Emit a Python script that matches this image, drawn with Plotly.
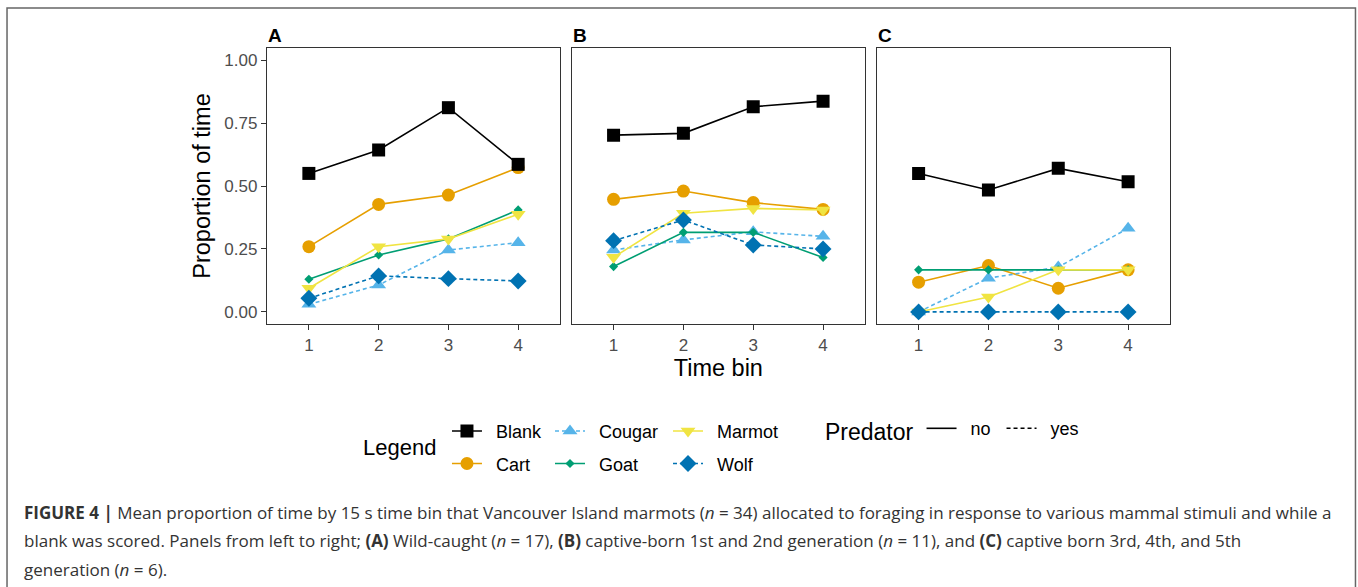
import plotly.graph_objects as go

time_bins = [1, 2, 3, 4]
stimuli = ["Blank", "Cart", "Cougar", "Goat", "Marmot", "Wolf"]
predator = ["no", "no", "yes", "no", "no", "yes"]

# Panel A: wild-caught
A_blank = [0.550, 0.643, 0.811, 0.586]
A_cart = [0.259, 0.427, 0.464, 0.573]
A_cougar = [0.030, 0.107, 0.246, 0.275]
A_goat = [0.130, 0.226, 0.290, 0.405]
A_marmot = [0.094, 0.259, 0.290, 0.388]
A_wolf = [0.054, 0.143, 0.132, 0.123]

# Panel B: captive-born 1st and 2nd generation
B_blank = [0.702, 0.709, 0.815, 0.837]
B_cart = [0.447, 0.480, 0.434, 0.407]
B_cougar = [0.246, 0.286, 0.318, 0.300]
B_goat = [0.180, 0.316, 0.316, 0.216]
B_marmot = [0.217, 0.392, 0.411, 0.405]
B_wolf = [0.283, 0.365, 0.266, 0.250]

# Panel C: captive-born 3rd, 4th and 5th generation
C_blank = [0.550, 0.484, 0.570, 0.517]
C_cart = [0.118, 0.184, 0.094, 0.167]
C_cougar = [0.000, 0.134, 0.178, 0.332]
C_goat = [0.167, 0.167, 0.167, 0.167]
C_marmot = [0.000, 0.059, 0.167, 0.167]
C_wolf = [0.000, 0.000, 0.000, 0.000]

y_ticks = [0.00, 0.25, 0.50, 0.75, 1.00]
y_ticklabels = ["0.00", "0.25", "0.50", "0.75", "1.00"]
panel_labels = ["A", "B", "C"]

panels = {
    "A": dict(Blank=A_blank, Cart=A_cart, Cougar=A_cougar, Goat=A_goat, Marmot=A_marmot, Wolf=A_wolf),
    "B": dict(Blank=B_blank, Cart=B_cart, Cougar=B_cougar, Goat=B_goat, Marmot=B_marmot, Wolf=B_wolf),
    "C": dict(Blank=C_blank, Cart=C_cart, Cougar=C_cougar, Goat=C_goat, Marmot=C_marmot, Wolf=C_wolf),
}

colors = {"Blank": "#000000", "Cart": "#E69F00", "Cougar": "#56B4E9",
          "Goat": "#009E73", "Marmot": "#F0E442", "Wolf": "#0072B2"}
symbols = {"Blank": "square", "Cart": "circle", "Cougar": "triangle-up",
           "Goat": "diamond", "Marmot": "triangle-down", "Wolf": "diamond"}
sizes = {"Blank": 13, "Cart": 13, "Cougar": 13, "Goat": 7, "Marmot": 13, "Wolf": 13}
legend_of = {"Blank": "legend", "Cart": "legend", "Cougar": "legend2",
             "Goat": "legend2", "Marmot": "legend3", "Wolf": "legend3"}
rank_of = {"Blank": 1, "Cart": 2, "Cougar": 1, "Goat": 2, "Marmot": 1, "Wolf": 2}

draw_order = ["Cart", "Cougar", "Goat", "Marmot", "Wolf", "Blank"]

FONT = "Liberation Sans, Arial, sans-serif"
CAP_FONT = "Open Sans, Liberation Sans, sans-serif"
DASH = "4px,3px"
PAD = "\u2002"

fig = go.Figure()
domains = [[0.0, 0.3245], [0.3374, 0.6622], [0.6752, 1.0]]

for i, p in enumerate(panel_labels):
    xa = "x" if i == 0 else f"x{i+1}"
    ya = "y" if i == 0 else f"y{i+1}"
    for s in draw_order:
        dash = DASH if predator[stimuli.index(s)] == "yes" else "solid"
        fig.add_trace(go.Scatter(
            x=time_bins, y=panels[p][s], mode="lines+markers", name=PAD + s,
            xaxis=xa, yaxis=ya,
            line=dict(color=colors[s], width=1.6, dash=dash),
            marker=dict(color=colors[s], symbol=symbols[s], size=sizes[s], line=dict(width=0)),
            showlegend=(i == 0), legend=legend_of[s], legendrank=rank_of[s],
            legendgroup=s,
        ))

# Predator linetype legend
for lab, dash in [("no", "solid"), ("yes", DASH)]:
    fig.add_trace(go.Scatter(
        x=[None], y=[None], mode="lines", name=PAD + lab, legend="legend4",
        line=dict(color="#000000", width=1.6, dash=dash), showlegend=True,
        legendgroup="pred_" + lab,
    ))

axis_common = dict(
    showgrid=False, zeroline=False, showline=True, mirror=True,
    linecolor="#333333", linewidth=1.3, ticks="outside", ticklen=5,
    tickwidth=1.1, tickcolor="#333333",
    tickfont=dict(family=FONT, size=17, color="#4D4D4D"),
)

for i in range(3):
    sfx = "" if i == 0 else str(i + 1)
    fig.layout["xaxis" + sfx] = dict(
        axis_common, domain=domains[i], range=[0.4, 4.6],
        tickvals=time_bins, ticktext=[str(t) for t in time_bins],
        anchor="y" + sfx,
    )
    fig.layout["yaxis" + sfx] = dict(
        axis_common, domain=[0, 1], range=[-0.048, 1.048],
        tickvals=y_ticks, ticktext=y_ticklabels, anchor="x" + sfx,
        showticklabels=(i == 0),
        ticks="outside" if i == 0 else "",
    )
    if i > 0:
        fig.layout["yaxis" + sfx].matches = "y"

fig.layout.yaxis.title = dict(text="Proportion of time", font=dict(family=FONT, size=23.5, color="#000000"), standoff=7)
fig.layout.xaxis2.title = dict(text="Time bin", font=dict(family=FONT, size=23.5, color="#000000"), standoff=6)

annotations = []
for i, lab in enumerate(panel_labels):
    xr = "x domain" if i == 0 else f"x{i+1} domain"
    yr = "y domain" if i == 0 else f"y{i+1} domain"
    annotations.append(dict(text=f"<b>{lab}</b>", xref=xr, yref=yr, x=0, y=1,
                            xanchor="left", yanchor="bottom", yshift=0, xshift=-1,
                            showarrow=False, font=dict(family=FONT, size=19, color="#000000")))

annotations.append(dict(text="Legend", xref="paper", yref="paper", x=0.1462, y=-0.4457,
                        xanchor="center", yanchor="middle", showarrow=False,
                        font=dict(family=FONT, size=22, color="#000000")))

caption_lines = [
    "<b>FIGURE 4 |</b> Mean proportion of time by 15 s time bin that Vancouver Island marmots (<i>n</i> = 34) allocated to foraging in response to various mammal stimuli and while a",
    "blank was scored. Panels from left to right; <b>(A)</b> Wild-caught (<i>n</i> = 17), <b>(B)</b> captive-born 1st and 2nd generation (<i>n</i> = 11), and <b>(C)</b> captive born 3rd, 4th, and 5th",
    "generation (<i>n</i> = 6).",
]
caption_y = [-0.6812, -0.7862, -0.8877]
for txt, yy in zip(caption_lines, caption_y):
    annotations.append(dict(text=txt, xref="paper", yref="paper", x=-0.2713, y=yy,
                            xanchor="left", yanchor="middle", showarrow=False,
                            font=dict(family=CAP_FONT, size=17, color="#333333")))

leg_font = dict(family=FONT, size=18, color="#000000")
leg_y = -0.322
fig.update_layout(
    width=1358, height=587,
    margin=dict(l=267, r=188, t=48, b=263, autoexpand=False),
    plot_bgcolor="white", paper_bgcolor="white",
    annotations=annotations,
    legend=dict(x=0.1993, y=leg_y, xanchor="left", yanchor="top", orientation="v",
                font=leg_font, tracegroupgap=6, bgcolor="rgba(0,0,0,0)", itemclick=False),
    legend2=dict(x=0.3134, y=leg_y, xanchor="left", yanchor="top", orientation="v",
                 font=leg_font, tracegroupgap=6, bgcolor="rgba(0,0,0,0)", itemclick=False),
    legend3=dict(x=0.4441, y=leg_y, xanchor="left", yanchor="top", orientation="v",
                 font=leg_font, tracegroupgap=6, bgcolor="rgba(0,0,0,0)", itemclick=False),
    legend4=dict(x=0.6157, y=-0.312, xanchor="left", yanchor="top", orientation="h",
                 font=leg_font, bgcolor="rgba(0,0,0,0)", itemclick=False, entrywidth=35,
                 title=dict(text="Predator", side="left", font=dict(family=FONT, size=23, color="#000000"))),
    shapes=[dict(type="rect", xref="paper", yref="paper", x0=-0.2879, x1=1.2054,
                 y0=-1.2, y1=1.1449, line=dict(color="#666666", width=1.5), layer="below")],
)

fig.write_html("out.html")
